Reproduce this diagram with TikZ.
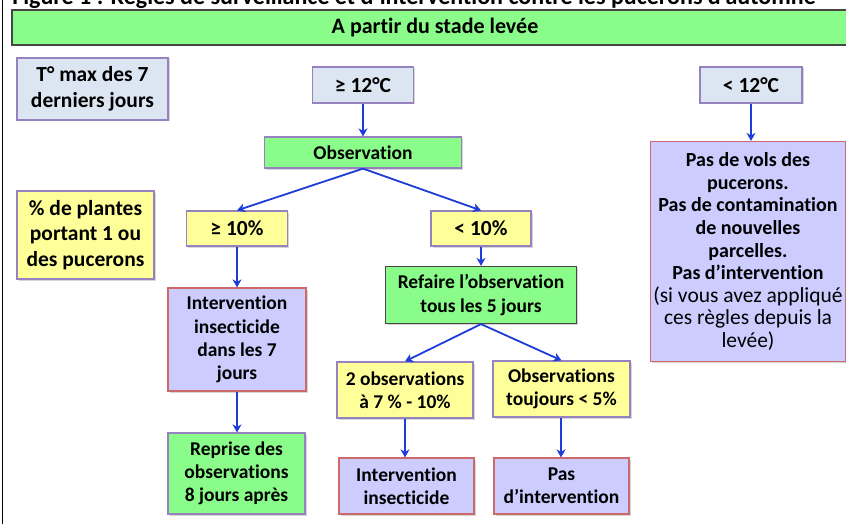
\documentclass[tikz,border=0pt]{standalone}
\usepackage{fontspec}
\setmainfont{Carlito}[Ligatures={NoCommon,NoContextual}]
\usetikzlibrary{arrows.meta,shadows}
\definecolor{gfill}{RGB}{138,252,138}
\definecolor{bfill}{RGB}{220,230,242}
\definecolor{yfill}{RGB}{255,255,153}
\definecolor{pfill}{RGB}{204,204,255}
\definecolor{pborder}{RGB}{150,130,190}
\definecolor{rborder}{RGB}{205,105,105}
\definecolor{dborder}{RGB}{70,70,70}
\definecolor{arrowblue}{RGB}{30,60,215}
\definecolor{shadowgray}{RGB}{175,175,175}
\tikzset{
  box/.style={rectangle, inner sep=0pt, align=center, line width=1.2pt,
    font=\bfseries\fontsize{19.5}{23.3}\selectfont,
    drop shadow={shadow xshift=1.5pt, shadow yshift=-1.5pt, fill=shadowgray}},
  bigtext/.style={font=\bfseries\fontsize{21.5}{25.5}\selectfont},
  gbox/.style={box, fill=gfill, draw=pborder},
  gdbox/.style={box, fill=gfill, draw=dborder},
  bbox/.style={box, fill=bfill, draw=pborder},
  ybox/.style={box, fill=yfill, draw=pborder},
  pbox/.style={box, fill=pfill, draw=rborder},
  conn/.style={draw=arrowblue, line width=1.8pt, -{Stealth[length=8pt,width=9pt,inset=2.5pt]}}
}
\begin{document}
\begin{tikzpicture}[x=1pt,y=-1pt]
\useasboundingbox (0,0) rectangle (846,524);
\clip (0,0) rectangle (846,524);
\fill[white] (0,0) rectangle (846,524);
% frame line on the left
\draw[line width=1.2pt, black] (2.5,0) -- (2.5,524);
% cut-off title
\node[anchor=base, inner sep=0pt, font=\bfseries\fontsize{24}{28}\selectfont] (title) at (414,4.5)
  {Figure 1 : Règles de surveillance et d’intervention contre les pucerons d’automne};
% header
\node[box, fill=gfill, draw=dborder, minimum width=846pt, minimum height=35pt,
  font=\bfseries\fontsize{22}{26}\selectfont] (head) at (435,27.5) {A partir du stade levée};
% left labels
\node[bbox, bigtext, minimum width=151pt, minimum height=62pt]
  (tmax) at (92.5,89) {T° max des 7\\derniers jours};
\node[ybox, bigtext, minimum width=137pt, minimum height=88pt]
  (pct) at (85.5,235) {\% de plantes\\portant 1 ou\\des pucerons};
% temperature
\node[bbox, bigtext, minimum width=101pt, minimum height=36pt] (ge12) at (363,85) {≥ 12°C};
\node[bbox, bigtext, minimum width=102pt, minimum height=36pt] (lt12) at (751,85) {< 12°C};
\node[gbox, minimum width=197pt, minimum height=31pt] (obs) at (363,152.5) {Observation};
\node[pbox, minimum width=195pt, minimum height=220pt, font=\fontsize{20}{22.6}\selectfont]
  (novol) at (748,251.5) {\bfseries Pas de vols des\\\bfseries pucerons.\\\bfseries Pas de contamination\\\bfseries de nouvelles\\\bfseries parcelles.\\\bfseries Pas d’intervention\\{\fontsize{21.5}{22.6}\selectfont(si vous avez appliqué}\\{\fontsize{21.5}{22.6}\selectfont ces règles depuis la}\\{\fontsize{21.5}{22.6}\selectfont levée)}};
% branches
\node[ybox, bigtext, minimum width=101pt, minimum height=35pt] (ge10) at (237,228.5) {≥ 10\%};
\node[ybox, bigtext, minimum width=100pt, minimum height=35pt] (lt10) at (481,228.5) {< 10\%};
\node[pbox, minimum width=138pt, minimum height=103pt] (int7) at (237,339.5) {Intervention\\insecticide\\dans les 7\\jours};
\node[gbox, minimum width=137pt, minimum height=81pt] (repr) at (236.5,473.5) {Reprise des\\observations\\8 jours après};
\node[gdbox, minimum width=191pt, minimum height=57pt] (refa) at (481,295) {Refaire l’observation\\tous les 5 jours};
\node[ybox, minimum width=136pt, minimum height=56pt] (two) at (405,390) {2 observations\\à 7 \% - 10\%};
\node[ybox, minimum width=137pt, minimum height=56pt] (five) at (561.5,389) {Observations\\toujours < 5\%};
\node[pbox, minimum width=135pt, minimum height=56pt] (intb) at (406.5,486) {Intervention\\insecticide};
\node[pbox, minimum width=135pt, minimum height=56pt] (pasi) at (561.5,486) {Pas\\d’intervention};
% connectors
\draw[conn] (ge12.south) -- (obs.north);
\draw[conn] (lt12.south) -- (lt12.south |- novol.north);
\draw[conn] (obs.south) -- (ge10.north);
\draw[conn] (obs.south) -- (lt10.north);
\draw[conn] (ge10.south) -- (int7.north);
\draw[conn] (int7.south) -- (int7.south |- repr.north);
\draw[conn] (lt10.south) -- (refa.north);
\draw[conn] (refa.south) -- (two.north);
\draw[conn] (refa.south) -- (five.north);
\draw[conn] (two.south) -- (two.south |- intb.north);
\draw[conn] ([xshift=-0.5pt]five.south) -- ([xshift=-0.5pt]pasi.north);
\end{tikzpicture}
\end{document}
